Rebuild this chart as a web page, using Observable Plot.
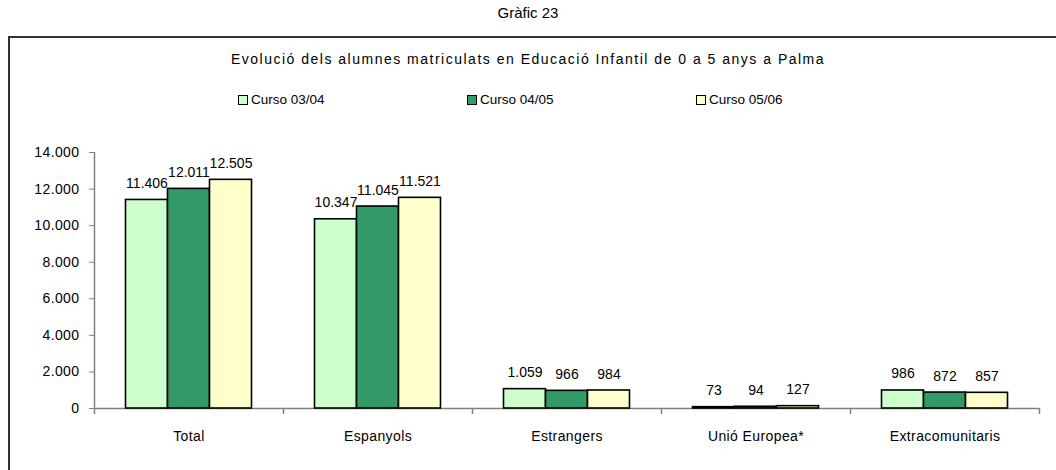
<!DOCTYPE html>
<html>
<head>
<meta charset="utf-8">
<script src="https://cdn.jsdelivr.net/npm/d3@7"></script>
<script src="https://cdn.jsdelivr.net/npm/@observablehq/plot@0.6"></script>
<style>
  html, body { margin: 0; padding: 0; background: #fff; }
  #page { position: relative; width: 1056px; height: 470px; overflow: hidden; font-family: "Liberation Sans", Arial, sans-serif; color: #000; }
  #title { position: absolute; left: 0; width: 1056px; top: 4px; text-align: center; font-size: 15px; }
  #frame { position: absolute; left: 8px; top: 36px; width: 1100px; height: 500px; border: 2px solid #333; box-sizing: border-box; }
  #subtitle { position: absolute; left: 0; width: 1056px; top: 51px; text-align: center; font-size: 14px; letter-spacing: 1.5px; }
  #legend { position: absolute; top: 92px; left: 0; width: 1056px; height: 18px; font-size: 13.5px; }
  .item { position: absolute; top: 0; display: flex; align-items: center; gap: 3px; white-space: nowrap; }
  .sw { width: 8px; height: 8px; border: 1px solid #000; display: inline-block; }
  #chart { position: absolute; left: 0; top: 130px; }
</style>
</head>
<body>
<div id="page">
  <div id="title"></div>
  <div id="frame"></div>
  <div id="subtitle"></div>
  <div id="legend"></div>
  <div id="chart"></div>
</div>
<script>
const chartTitle = "Gràfic 23";
const chartSubtitle = "Evolució dels alumnes matriculats en Educació Infantil de 0 a 5 anys a Palma";
const categories = ["Total", "Espanyols", "Estrangers", "Unió Europea*", "Extracomunitaris"];
const seriesNames = ["Curso 03/04", "Curso 04/05", "Curso 05/06"];
const curso0304 = [11406, 10347, 1059, 73, 986];
const curso0405 = [12011, 11045, 966, 94, 872];
const curso0506 = [12505, 11521, 984, 127, 857];
const seriesColors = ["#CCFFCC", "#339966", "#FFFFCC"];
const yTicks = [0, 2000, 4000, 6000, 8000, 10000, 12000, 14000];
const legendX = [238, 467, 696];

document.getElementById("title").textContent = chartTitle;
document.getElementById("subtitle").textContent = chartSubtitle;

const legend = document.getElementById("legend");
seriesNames.forEach((s, i) => {
  const it = document.createElement("div");
  it.className = "item";
  it.style.left = legendX[i] + "px";
  const sw = document.createElement("span");
  sw.className = "sw";
  sw.style.background = seriesColors[i];
  const t = document.createElement("span");
  t.textContent = s;
  it.appendChild(sw); it.appendChild(t);
  legend.appendChild(it);
});

const loc = d3.formatLocale({decimal: ",", thousands: ".", grouping: [3], currency: ["", " €"]});
const fmt = loc.format(",");

const allSeries = [curso0304, curso0405, curso0506];
const rows = [];
allSeries.forEach((vals, si) => {
  vals.forEach((v, ci) => rows.push({category: categories[ci], series: seriesNames[si], value: v}));
});

const width = 1056, height = 330, marginLeft = 94, marginRight = 17, marginTop = 22, marginBottom = 52;
const bw = (width - marginLeft - marginRight) / categories.length;
const gw = bw * 2 / 3;
const barW = gw / 3;
const outer = (bw - gw) / 2;

const barMarks = [];
const textMarks = [];
seriesNames.forEach((s, i) => {
  const data = rows.filter(d => d.series === s);
  barMarks.push(Plot.barY(data, {
    x: "category", y: "value", fill: seriesColors[i], stroke: "#000", strokeWidth: 1.6,
    insetLeft: outer + barW * i, insetRight: bw - outer - barW * (i + 1)
  }));
  textMarks.push(Plot.text(data, {
    x: "category", y: "value", text: d => fmt(d.value), dx: (i - 1) * barW, dy: -12,
    lineAnchor: "bottom", fontSize: 14, fill: "#000", style: {letterSpacing: "0px"}
  }));
});

const chart = Plot.plot({
  width, height, marginLeft, marginRight, marginTop, marginBottom,
  style: {fontFamily: "'Liberation Sans', Arial, sans-serif", fontSize: "14px", letterSpacing: "0.4px", background: "transparent", color: "#000"},
  x: {domain: categories, padding: 0, label: null},
  y: {domain: [0, 14000], label: null},
  marks: [
    Plot.ruleY([0], {stroke: "#808080", strokeWidth: 1.5}),
    Plot.ruleX([categories[0]], {dx: -bw / 2, stroke: "#808080", strokeWidth: 1.5}),
    Plot.ruleX(categories, {x: d => d, y1: 0, y2: 0, dx: -bw / 2, insetBottom: -6, stroke: "#808080", strokeWidth: 1.5}),
    Plot.ruleX([categories[categories.length - 1]], {x: d => d, y1: 0, y2: 0, dx: bw / 2, insetBottom: -6, stroke: "#808080", strokeWidth: 1.5}),
    Plot.axisY({ticks: yTicks, tickFormat: fmt, tickSize: 5, tickPadding: 10, stroke: "#808080", fontSize: 14, label: null}),
    Plot.axisX({tickSize: 0, tickPadding: 23, fontSize: 14, label: null}),
    ...barMarks,
    ...textMarks
  ]
});
chart.querySelectorAll("g[aria-label='text'] text").forEach(t => t.style.letterSpacing = "0px");
document.getElementById("chart").appendChild(chart);
</script>
</body>
</html>
